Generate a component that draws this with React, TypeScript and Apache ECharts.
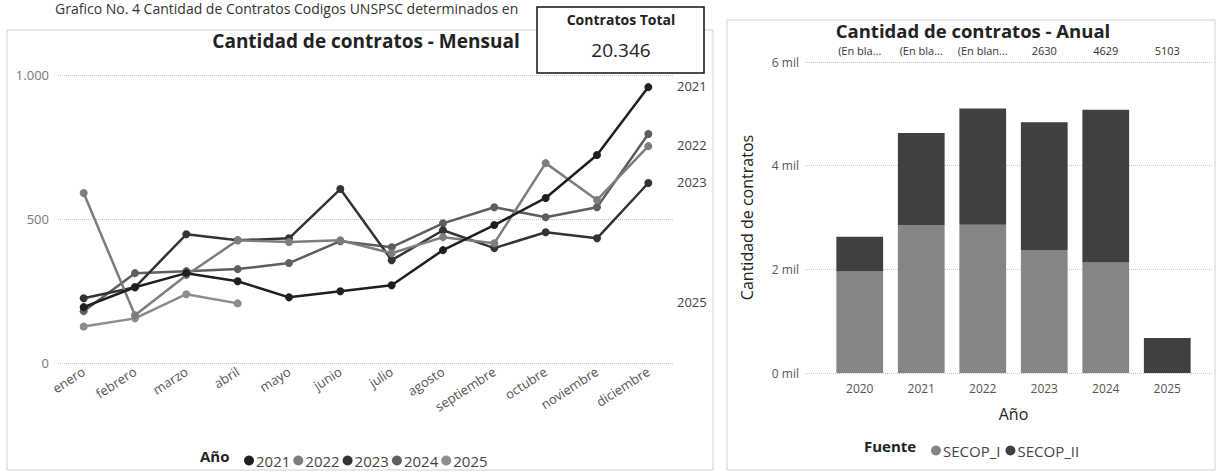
import React, { useEffect, useRef } from 'react';
import * as echarts from 'echarts';

const FONT = '"Open Sans", "Noto Sans", "DejaVu Sans", sans-serif';

// Monthly chart data
const months = ['enero', 'febrero', 'marzo', 'abril', 'mayo', 'junio', 'julio', 'agosto', 'septiembre', 'octubre', 'noviembre', 'diciembre'];
const years = ['2021', '2022', '2023', '2024', '2025'];
const v2021 = [194, 263, 312, 284, 228, 249, 270, 392, 479, 573, 722, 958];
const v2022 = [590, 166, 305, 426, 420, 426, 381, 437, 416, 694, 566, 753];
const v2023 = [225, 263, 447, 426, 433, 604, 357, 461, 399, 454, 433, 625];
const v2024 = [180, 312, 319, 326, 347, 423, 402, 485, 541, 506, 541, 795];
const v2025 = [127, 155, 239, 207];
const monthlyValues = [v2021, v2022, v2023, v2024, v2025];
const yearColors = ['#1f1f1f', '#7d7d7d', '#333333', '#5e5e5e', '#8c8c8c'];
const endLabelYears = ['2021', '2022', '2023', '2025'];

// Annual chart data
const annualYears = ['2020', '2021', '2022', '2023', '2024', '2025'];
const secopI = [1960, 2855, 2860, 2371, 2134, 0];
const secopII = [670, 1774, 2243, 2466, 2945, 677];
const sources = ['SECOP_I', 'SECOP_II'];
const sourceColors = ['#858585', '#404040'];
const topLabels = ['(En bla...', '(En bla...', '(En blan...', '2630', '4629', '5103'];

const totalLabel = 'Contratos Total';
const totalValue = '20.346';

const fmtThousands = (v: number) => String(v).replace(/\B(?=(\d{3})+(?!\d))/g, '.');

export default function App() {
  const ref = useRef<HTMLDivElement>(null);
  useEffect(() => {
    const chart = echarts.init(ref.current!, null, { renderer: 'svg' });

    const baseGraphic: any[] = [
      { type: 'rect', id: 'pL', shape: { x: 7, y: 30, width: 706, height: 440 }, style: { fill: 'none', stroke: '#cfcfcf', lineWidth: 1 }, z: -1 },
      { type: 'rect', id: 'pR', shape: { x: 727, y: 20, width: 488, height: 450 }, style: { fill: 'none', stroke: '#cfcfcf', lineWidth: 1 }, z: -1 },
      { type: 'text', id: 'cap', x: 55, y: 1, style: { text: 'Grafico No. 4 Cantidad de Contratos Codigos UNSPSC determinados en', fontSize: 14, fontFamily: FONT, fill: '#333', textVerticalAlign: 'top' } },
      { type: 'rect', id: 'card', shape: { x: 537, y: 7, width: 167, height: 66 }, style: { fill: '#fff', stroke: '#111', lineWidth: 1.5 }, z: 10 },
      { type: 'text', id: 'cardT', x: 621, y: 19, z: 11, style: { text: totalLabel, fontSize: 14, fontWeight: 'bold', fontFamily: FONT, fill: '#222', textAlign: 'center', textVerticalAlign: 'middle' } },
      { type: 'text', id: 'cardV', x: 621, y: 50, z: 11, style: { text: totalValue, fontSize: 19, fontFamily: FONT, fill: '#222', textAlign: 'center', textVerticalAlign: 'middle' } },
      { type: 'text', id: 'tL', x: 366, y: 41, style: { text: 'Cantidad de contratos - Mensual', fontSize: 19, fontWeight: 'bold', fontFamily: FONT, fill: '#222', textAlign: 'center', textVerticalAlign: 'middle' } },
      { type: 'text', id: 'tR', x: 973, y: 30, style: { text: 'Cantidad de contratos - Anual', fontSize: 18.5, fontWeight: 'bold', fontFamily: FONT, fill: '#222', textAlign: 'center', textVerticalAlign: 'middle' } },
      { type: 'text', id: 'lgA', x: 200, y: 456, style: { text: 'Año', fontSize: 15, fontWeight: 'bold', fontFamily: FONT, fill: '#222', textVerticalAlign: 'middle' } },
      { type: 'text', id: 'lgF', x: 864, y: 446, style: { text: 'Fuente', fontSize: 15, fontWeight: 'bold', fontFamily: FONT, fill: '#222', textVerticalAlign: 'middle' } },
    ];

    const lineSeries = years.map((y, i) => ({
      name: y,
      type: 'line',
      xAxisIndex: 0,
      yAxisIndex: 0,
      data: monthlyValues[i],
      symbol: 'circle',
      symbolSize: 8,
      lineStyle: { width: 2.5, color: yearColors[i] },
      itemStyle: { color: yearColors[i] },
      z: 3 + (4 - i),
    }));

    const option: any = {
      animation: false,
      backgroundColor: '#fff',
      textStyle: { fontFamily: FONT },
      grid: [
        { left: 58, top: 75, width: 616, height: 288 },
        { left: 829, top: 62, width: 369, height: 311 },
        { left: 805, top: 62, width: 407, height: 311 },
      ],
      xAxis: [
        {
          type: 'category', gridIndex: 0, data: months, boundaryGap: true,
          axisLine: { show: false }, axisTick: { show: false },
          axisLabel: { rotate: 33, fontSize: 13, color: '#555', margin: 7, fontFamily: FONT, interval: 0 },
        },
        {
          type: 'category', gridIndex: 1, data: annualYears,
          axisLine: { show: false }, axisTick: { show: false },
          axisLabel: { fontSize: 12, color: '#555', margin: 9, fontFamily: FONT },
          name: 'Año', nameLocation: 'middle', nameGap: 33,
          nameTextStyle: { fontSize: 16, color: '#222', fontFamily: FONT },
        },
        { type: 'category', gridIndex: 2, data: annualYears, show: false },
      ],
      yAxis: [
        {
          type: 'value', gridIndex: 0, min: 0, max: 1000, interval: 500,
          axisLine: { show: false }, axisTick: { show: false },
          splitLine: { lineStyle: { type: 'dotted', color: '#c4c4c4' } },
          axisLabel: { fontSize: 13, color: '#777', margin: 9, fontFamily: FONT, formatter: (v: number) => fmtThousands(v) },
        },
        { type: 'value', gridIndex: 1, min: 0, max: 6000, interval: 2000, show: false, splitLine: { show: false } },
        {
          type: 'value', gridIndex: 2, min: 0, max: 6000, interval: 2000,
          axisLine: { show: false }, axisTick: { show: false },
          splitLine: { lineStyle: { type: 'dotted', color: '#c4c4c4' } },
          axisLabel: { fontSize: 12, color: '#555', margin: 6, fontFamily: FONT, formatter: (v: number) => v / 1000 + ' mil' },
          name: 'Cantidad de contratos', nameLocation: 'middle', nameGap: 50,
          nameTextStyle: { fontSize: 16, color: '#222', fontFamily: FONT },
        },
      ],
      legend: [
        {
          data: years, left: 239, top: 448, icon: 'circle', itemWidth: 10, itemHeight: 10, itemGap: 3,
          textStyle: { fontSize: 15, color: '#444', fontFamily: FONT, padding: [0, 0, 0, -3] },
        },
        {
          data: sources, left: 926, top: 438, icon: 'circle', itemWidth: 10, itemHeight: 10, itemGap: 5,
          textStyle: { fontSize: 15, color: '#444', fontFamily: FONT, padding: [0, 0, 0, -3] },
        },
      ],
      series: [
        ...lineSeries,
        {
          name: sources[0], type: 'bar', stack: 'a', xAxisIndex: 1, yAxisIndex: 1,
          data: secopI, barWidth: '76%', itemStyle: { color: sourceColors[0] },
        },
        {
          name: sources[1], type: 'bar', stack: 'a', xAxisIndex: 1, yAxisIndex: 1,
          data: secopII, barWidth: '76%', itemStyle: { color: sourceColors[1] },
        },
      ],
      graphic: { elements: baseGraphic },
    };

    chart.setOption(option);

    const extra: any[] = [];
    endLabelYears.forEach((y) => {
      const i = years.indexOf(y);
      const vals = monthlyValues[i];
      const p = chart.convertToPixel({ gridIndex: 0 }, [vals.length - 1, vals[vals.length - 1]]) as number[];
      extra.push({
        type: 'text', id: 'end' + y, x: 677, y: p[1] - 1,
        style: { text: y, fontSize: 13, fontFamily: FONT, fill: '#444', textVerticalAlign: 'middle' },
      });
    });
    topLabels.forEach((t, i) => {
      const p = chart.convertToPixel({ gridIndex: 1 }, [i, 6000]) as number[];
      extra.push({
        type: 'text', id: 'top' + i, x: p[0], y: p[1] - 12,
        style: { text: t, fontSize: 11, fontFamily: FONT, fill: '#333', textAlign: 'center', textVerticalAlign: 'middle' },
      });
    });
    chart.setOption({ graphic: { elements: [...baseGraphic, ...extra] } });

    return () => chart.dispose();
  }, []);

  return (
    <div
      ref={ref}
      style={{ position: 'absolute', left: 0, top: 0, width: 1219, height: 475, background: '#fff' }}
    />
  );
}
